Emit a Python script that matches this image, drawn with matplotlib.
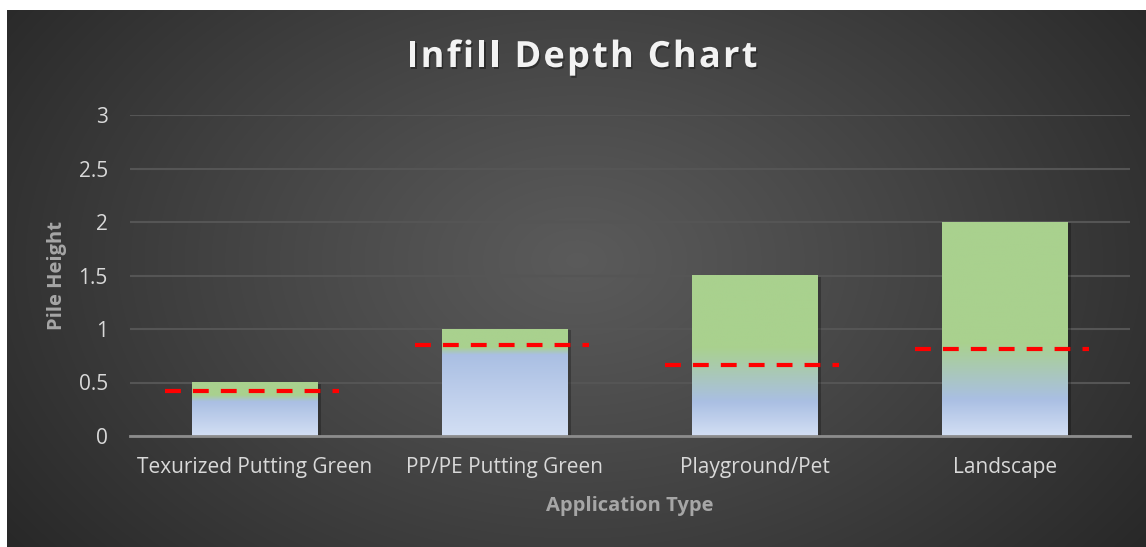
import numpy as np
import matplotlib
matplotlib.use("Agg")
import matplotlib.pyplot as plt
import matplotlib.patheffects as pe
from matplotlib.colors import to_rgb

# data
categories = ["Texurized Putting Green", "PP/PE Putting Green", "Playground/Pet", "Landscape"]
pile_height = [0.5, 1.0, 1.5, 2.0]
infill_depth = [0.42, 0.85, 0.66, 0.81]
y_ticks = [0, 0.5, 1, 1.5, 2, 2.5, 3]
y_tick_labels = ["0", "0.5", "1", "1.5", "2", "2.5", "3"]

# gradient fill (blue end, green start) per bar, in data units
blue_end = [0.32, 0.76, 0.32, 0.34]
green_start = [0.38, 0.83, 0.83, 0.87]

plt.rcParams['font.family'] = ['Open Sans', 'DejaVu Sans']

W, H = 1146, 547
fig = plt.figure(figsize=(W / 100, H / 100), dpi=100)
fig.patch.set_facecolor("white")

# dark radial background of the chart area
bg = fig.add_axes([7 / W, 0, 1 - 7 / W, 537 / H])
bg.set_axis_off()
yy, xx = np.mgrid[0:537, 0:1139]
r = np.sqrt(((xx - 570) / 760.0) ** 2 + ((yy - 250) / 520.0) ** 2)
r = np.clip(r, 0, 1)
val = 0.355 - (0.355 - 0.14) * r ** 1.1
bg.imshow(np.dstack([val, val, val]), aspect="auto", extent=[0, 1, 0, 1], origin="upper")
bg.set_xlim(0, 1)
bg.set_ylim(0, 1)

ax = fig.add_axes([130 / W, 111 / H, 1000 / W, 321 / H])
ax.set_facecolor("none")

bottom_c = np.array(to_rgb("#d3dff4"))
blue_c = np.array(to_rgb("#aabfe3"))
green_c = np.array(to_rgb("#a9d18e"))

x = np.arange(len(categories))
bw = 0.504
for i, h in enumerate(pile_height):
    ys = np.linspace(0, h, 300)
    stops = [0, blue_end[i], green_start[i], h]
    img = np.zeros((len(ys), 1, 3))
    for c in range(3):
        img[:, 0, c] = np.interp(ys, stops, [bottom_c[c], blue_c[c], green_c[c], green_c[c]])
    # soft shadow
    ax.add_patch(plt.Rectangle((x[i] - bw / 2 + 0.012, 0), bw, h - 0.01, color="black",
                               alpha=0.25, zorder=1.5, lw=0))
    ax.imshow(img, extent=[x[i] - bw / 2, x[i] + bw / 2, 0, h], origin="lower",
              aspect="auto", zorder=2, interpolation="bilinear")

# infill depth dashed markers
for i, d in enumerate(infill_depth):
    ax.plot([x[i] - 0.36, x[i] + 0.336], [d, d], color="#ff0000", lw=3,
            dashes=(3.8, 2.9), solid_capstyle="butt", dash_capstyle="butt", zorder=3)

ax.set_xlim(-0.5, 3.5)
ax.set_ylim(0, 3)
ax.set_yticks(y_ticks)
ax.set_yticklabels(y_tick_labels)
ax.set_xticks(x)
ax.set_xticklabels(categories)
ax.grid(axis="y", color="#555555", lw=1.5, zorder=0)
ax.set_axisbelow(True)
for s in ["top", "right", "left"]:
    ax.spines[s].set_visible(False)
ax.spines["bottom"].set_color("#8c8c8c")
ax.spines["bottom"].set_linewidth(2)
ax.spines["bottom"].set_zorder(4)
ax.tick_params(axis="both", length=0, colors="#d9d9d9", labelsize=15)
ax.tick_params(axis="y", pad=16)
ax.tick_params(axis="x", pad=15)

ax.set_ylabel("Pile Height", color="#a6a6a6", fontsize=14.5, fontweight="bold", labelpad=8)
ax.set_xlabel("Application Type", color="#a6a6a6", fontsize=14.5, fontweight="bold", labelpad=13)

# title with letter spacing, placed char by char
title = "Infill Depth Chart"
tracking = 2.2  # px between letters
shadow = [pe.withSimplePatchShadow(offset=(1, -1.5), shadow_rgbFace="black", alpha=0.35)]
renderer = fig.canvas.get_renderer()
widths = []
for ch in title:
    t = fig.text(0, 0, ch if ch != " " else "a a", fontsize=26, fontweight="bold")
    w = t.get_window_extent(renderer).width
    if ch == " ":
        t2 = fig.text(0, 0, "aa", fontsize=26, fontweight="bold")
        w = w - t2.get_window_extent(renderer).width
        t2.remove()
    widths.append(w)
    t.remove()
total = sum(widths) + tracking * (len(title) - 1)
cx = 582 - total / 2
for ch, w in zip(title, widths):
    if ch != " ":
        fig.text(cx / W, 1 - 58 / H, ch, ha="left", va="center", color="#f2f2f2",
                 fontsize=26, fontweight="bold", path_effects=shadow)
    cx += w + tracking

fig.savefig("out.png", dpi=100, facecolor="white")
